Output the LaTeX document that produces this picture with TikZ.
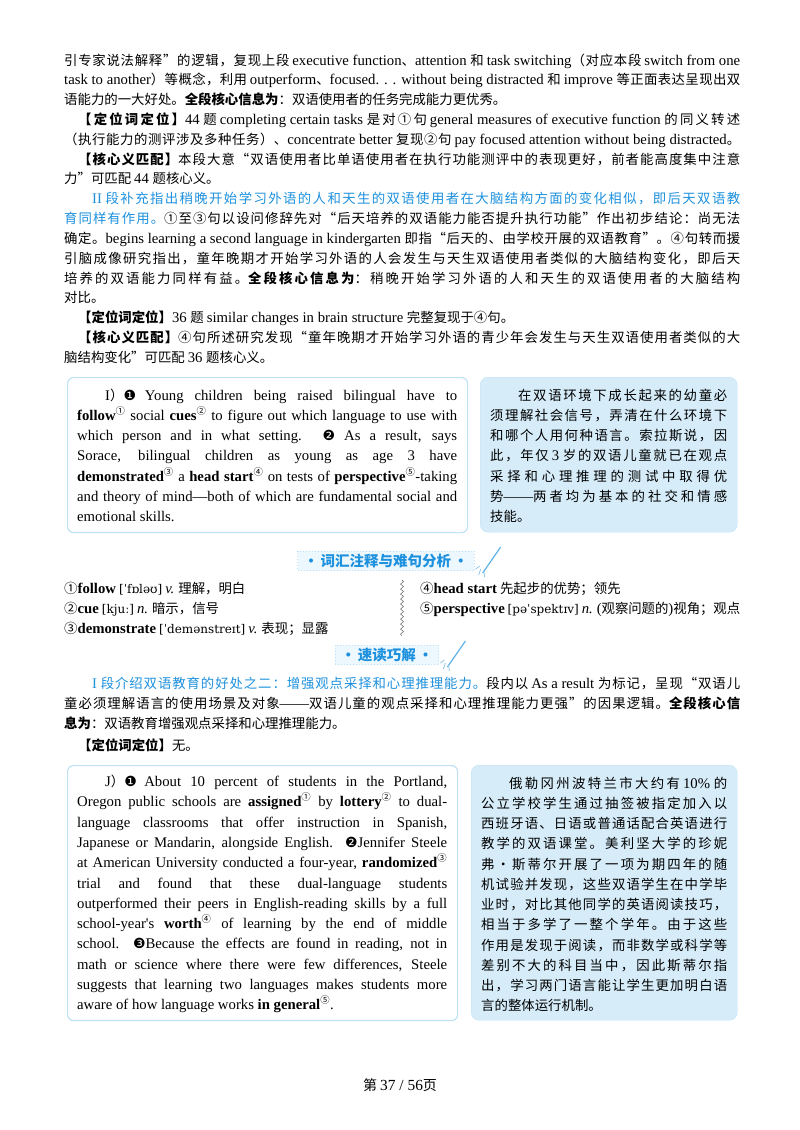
\documentclass[tikz,border=0pt]{standalone}
\usepackage{fontspec}
\usetikzlibrary{decorations.pathmorphing}
\setmainfont{Liberation Serif}[Scale=1.1]
\newfontfamily\cjkfont{Noto Sans CJK SC}
\newfontfamily\latfont{Liberation Serif}[Scale=1.1]
\newfontfamily\dv{DejaVu Sans}
\newfontfamily\dvs{DejaVu Serif}
\definecolor{blueA}{RGB}{30,145,222}
\definecolor{boxfill}{RGB}{214,236,249}
\definecolor{boxline}{RGB}{192,226,246}
\definecolor{headfill}{RGB}{236,247,254}
\newXeTeXintercharclass\CJKc
\makeatletter
\count@="4E00 \loop \XeTeXcharclass\count@=\CJKc \advance\count@ 1 \ifnum\count@<"A000 \repeat
\count@="3000 \loop \XeTeXcharclass\count@=\CJKc \advance\count@ 1 \ifnum\count@<"3040 \repeat
\count@="FF00 \loop \XeTeXcharclass\count@=\CJKc \advance\count@ 1 \ifnum\count@<"FFF0 \repeat
\count@="2460 \loop \XeTeXcharclass\count@=\CJKc \advance\count@ 1 \ifnum\count@<"2474 \repeat
\makeatother
\XeTeXcharclass"201C=\CJKc \XeTeXcharclass"201D=\CJKc \XeTeXcharclass"00B7=\CJKc
\XeTeXinterchartoks 0 \CJKc={\cjkfont}
\XeTeXinterchartoks 4095 \CJKc={\cjkfont}
\XeTeXinterchartoks \CJKc 0={\latfont}
\XeTeXinterchartoks 4095 0={\latfont}
\XeTeXinterchartoks \CJKc \CJKc={\hskip0pt plus 1fil minus 0.6pt}
\XeTeXinterchartokenstate=1
\newcommand\Sp[1]{\textsuperscript{#1}}
\newcommand\Dn[1]{{\XeTeXinterchartokenstate=0 \dv\fontsize{14}{14}\selectfont #1}}
\newcommand\Fl[5]{\node[ln] (#1) at (#2,#3) {\hbox to #4pt{#5}};}
\newcommand\Nl[4]{\node[ln] (#1) at (#2,#3) {#4};}
\newcommand\Ph[1]{{\XeTeXinterchartokenstate=0 \dvs\fontsize{12}{14}\selectfont #1}}
\begin{document}
\begin{tikzpicture}[x=1pt,y=-1pt,
  ln/.style={anchor=base west,inner sep=0pt,font=\fontsize{13.4}{16}\selectfont},
  lbox/.style={draw=boxline,line width=1.2pt,rounded corners=6pt,fill=white},
  rbox/.style={fill=boxfill,draw=boxline,rounded corners=8pt},
  head/.style={draw=boxline,dotted,line width=1pt,fill=headfill,text=blueA,inner xsep=6pt,inner ysep=3pt,font=\fontsize{14.5}{16}\selectfont\cjkfont\bfseries}]
\useasboundingbox (0,0) rectangle (800,1130);
\fill[white] (0,0) rectangle (800,1130);
% top section
\Fl{a1}{64}{65}{676}{引专家说法解释”的逻辑，复现上段 executive function、attention 和 task switching（对应本段 switch from one}
\Fl{a2}{64}{84}{676}{task to another）等概念，利用 outperform、focused. . . without being distracted 和 improve 等正面表达呈现出双}
\Nl{a3}{64}{104}{语能力的一大好处。\textbf{全段核心信息为}：双语使用者的任务完成能力更优秀。}
\Fl{a4}{78}{124}{662}{\textbf{【定位词定位】}44 题 completing certain tasks 是对①句 general measures of executive function 的同义转述}
\Fl{a5}{64}{144}{676}{（执行能力的测评涉及多种任务）、concentrate better 复现②句 pay focused attention without being distracted。}
\Fl{a6}{78}{164}{662}{\textbf{【核心义匹配】}本段大意“双语使用者比单语使用者在执行功能测评中的表现更好，前者能高度集中注意}
\Nl{a7}{64}{183}{力”可匹配 44 题核心义。}
\Fl{a8}{92}{203}{648}{\color{blueA}II 段补充指出稍晚开始学习外语的人和天生的双语使用者在大脑结构方面的变化相似，即后天双语教}
\Fl{a9}{64}{223}{676}{{\color{blueA}育同样有作用。}①至③句以设问修辞先对“后天培养的双语能力能否提升执行功能”作出初步结论：尚无法}
\Fl{a10}{64}{243}{676}{确定。begins learning a second language in kindergarten 即指“后天的、由学校开展的双语教育”。④句转而援}
\Fl{a11}{64}{263}{676}{引脑成像研究指出，童年晚期才开始学习外语的人会发生与天生双语使用者类似的大脑结构变化，即后天}
\Fl{a12}{64}{283}{676}{培养的双语能力同样有益。\textbf{全段核心信息为}：稍晚开始学习外语的人和天生的双语使用者的大脑结构}
\Nl{a13}{64}{302}{对比。}
\Nl{a14}{78}{322}{\textbf{【定位词定位】}36 题 similar changes in brain structure 完整复现于④句。}
\Fl{a15}{78}{342}{662}{\textbf{【核心义匹配】}④句所述研究发现“童年晚期才开始学习外语的青少年会发生与天生双语使用者类似的大}
\Nl{a16}{64}{362}{脑结构变化”可匹配 36 题核心义。}
% box I
\node[lbox,minimum width=400pt,minimum height=155pt,anchor=north west] (boxI) at (67,377) {};
\node[rbox,minimum width=257pt,minimum height=155pt,anchor=north west] (boxIc) at (480,377) {};
\Fl{i1}{105}{400}{352}{I）\Dn{❶} Young children being raised bilingual have to}
\Fl{i2}{77}{420}{380}{\textbf{follow}\Sp{①} social \textbf{cues}\Sp{②} to figure out which language to use with}
\Fl{i3}{77}{440}{380}{which person and in what setting. \Dn{❷} As a result, says}
\Fl{i4}{77}{460}{380}{Sorace, bilingual children as young as age 3 have}
\Fl{i5}{77}{481}{380}{\textbf{demonstrated}\Sp{③} a \textbf{head start}\Sp{④} on tests of \textbf{perspective}\Sp{⑤}-taking}
\Fl{i6}{77}{501}{380}{and theory of mind—both of which are fundamental social and}
\Nl{i7}{77}{521}{emotional skills.}
\Fl{c1}{518}{400}{209}{在双语环境下成长起来的幼童必}
\Fl{c2}{490}{420}{237}{须理解社会信号，弄清在什么环境下}
\Fl{c3}{490}{440}{237}{和哪个人用何种语言。索拉斯说，因}
\Fl{c4}{490}{460}{237}{此，年仅 3 岁的双语儿童就已在观点}
\Fl{c5}{490}{481}{237}{采择和心理推理的测试中取得优}
\Fl{c6}{490}{501}{237}{势——两者均为基本的社交和情感}
\Nl{c7}{490}{521}{技能。}
% heading 1
\node[head] (h1) at (386,561) {·\,词汇注释与难句分析\,·};
\draw[blueA!70,line width=1.2pt] (h1.east)++(8,12) -- ++(18,-26);
\draw[blueA!50,line width=0.8pt] (h1.east)++(6,8) -- ++(-2,6) (h1.east)++(9,9) -- ++(1,7) (h1.east)++(5,5) -- ++(-4,3);
\Nl{v1}{64}{593}{①\textbf{follow} \Ph{[ˈfɒləʊ]} \textit{v.} 理解，明白}
\Nl{v2}{64}{613}{②\textbf{cue} \Ph{[kjuː]} \textit{n.} 暗示，信号}
\Nl{v3}{64}{633}{③\textbf{demonstrate} \Ph{[ˈdemənstreɪt]} \textit{v.} 表现；显露}
\Nl{v4}{420}{593}{④\textbf{head start} 先起步的优势；领先}
\Fl{v5}{420}{613}{320}{⑤\textbf{perspective} \Ph{[pəˈspektɪv]} \textit{n.} (观察问题的)视角；观点}
\draw[black!70,decorate,decoration={snake,amplitude=1.5pt,segment length=5pt}] (402,580) -- (402,636);
% heading 2
\node[head] (h2) at (387,655) {·\,速读巧解\,·};
\draw[blueA!70,line width=1.2pt] (h2.east)++(8,12) -- ++(18,-26);
\draw[blueA!50,line width=0.8pt] (h2.east)++(6,8) -- ++(-2,6) (h2.east)++(9,9) -- ++(1,7) (h2.east)++(5,5) -- ++(-4,3);
\Fl{s1}{92}{688}{648}{{\color{blueA}I 段介绍双语教育的好处之二：增强观点采择和心理推理能力。}段内以 As a result 为标记，呈现“双语儿}
\Fl{s2}{64}{708}{676}{童必须理解语言的使用场景及对象——双语儿童的观点采择和心理推理能力更强”的因果逻辑。\textbf{全段核心信}}
\Nl{s3}{64}{728}{\textbf{息为}：双语教育增强观点采择和心理推理能力。}
\Nl{s4}{78}{750}{\textbf{【定位词定位】}无。}
% box J
\node[lbox,minimum width=390pt,minimum height=255pt,anchor=north west] (boxJ) at (67,765) {};
\node[rbox,minimum width=266pt,minimum height=255pt,anchor=north west] (boxJc) at (471,765) {};
\Fl{j1}{105}{786}{342}{J）\Dn{❶} About 10 percent of students in the Portland,}
\Fl{j2}{77}{806}{370}{Oregon public schools are \textbf{assigned}\Sp{①} by \textbf{lottery}\Sp{②} to dual-}
\Fl{j3}{77}{827}{370}{language classrooms that offer instruction in Spanish,}
\Fl{j4}{77}{847}{370}{Japanese or Mandarin, alongside English. \Dn{❷}Jennifer Steele}
\Fl{j5}{77}{867}{370}{at American University conducted a four-year, \textbf{randomized}\Sp{③}}
\Fl{j6}{77}{888}{370}{trial and found that these dual-language students}
\Fl{j7}{77}{908}{370}{outperformed their peers in English-reading skills by a full}
\Fl{j8}{77}{928}{370}{school-year's \textbf{worth}\Sp{④} of learning by the end of middle}
\Fl{j9}{77}{948}{370}{school. \Dn{❸}Because the effects are found in reading, not in}
\Fl{j10}{77}{969}{370}{math or science where there were few differences, Steele}
\Fl{j11}{77}{989}{370}{suggests that learning two languages makes students more}
\Nl{j12}{77}{1009}{aware of how language works \textbf{in general}\Sp{⑤}.}
\Fl{k1}{509}{788}{218}{俄勒冈州波特兰市大约有 10\% 的}
\Fl{k2}{481}{808}{246}{公立学校学生通过抽签被指定加入以}
\Fl{k3}{481}{828}{246}{西班牙语、日语或普通话配合英语进行}
\Fl{k4}{481}{848}{246}{教学的双语课堂。美利坚大学的珍妮}
\Fl{k5}{481}{869}{246}{弗·斯蒂尔开展了一项为期四年的随}
\Fl{k6}{481}{889}{246}{机试验并发现，这些双语学生在中学毕}
\Fl{k7}{481}{909}{246}{业时，对比其他同学的英语阅读技巧，}
\Fl{k8}{481}{929}{246}{相当于多学了一整个学年。由于这些}
\Fl{k9}{481}{950}{246}{作用是发现于阅读，而非数学或科学等}
\Fl{k10}{481}{970}{246}{差别不大的科目当中，因此斯蒂尔指}
\Fl{k11}{481}{990}{246}{出，学习两门语言能让学生更加明白语}
\Nl{k12}{481}{1010}{言的整体运行机制。}
\node[font=\fontsize{14}{16}\selectfont,inner sep=0pt] (pg) at (400,1085) {第 37 / 56页};
\end{tikzpicture}
\end{document}
